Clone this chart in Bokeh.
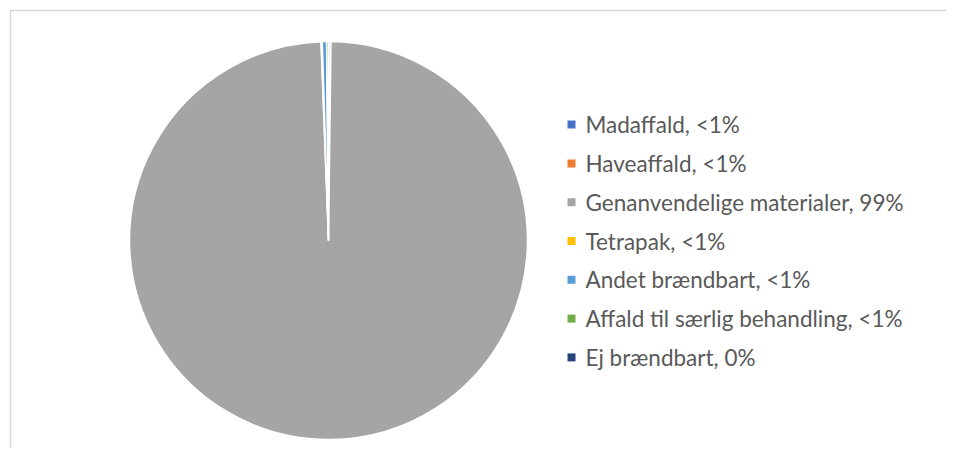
import math
from bokeh.plotting import figure
from bokeh.models import ColumnDataSource, Range1d
from bokeh.core.properties import value
from bokeh.embed import file_html
from bokeh.resources import INLINE

categories = ["Madaffald", "Haveaffald", "Genanvendelige materialer", "Tetrapak",
              "Andet brændbart", "Affald til særlig behandling", "Ej brændbart"]
shares = [0.15, 0.05, 99.2, 0.10, 0.35, 0.15, 0.0]
pct_labels = ["<1%", "<1%", "99%", "<1%", "<1%", "<1%", "0%"]
colors = ["#4472C4", "#ED7D31", "#A5A5A5", "#FFC000", "#5B9BD5", "#70AD47", "#264478"]

W, H = 946, 448
p = figure(width=W, height=H, output_backend="svg", toolbar_location=None,
           x_range=Range1d(0, W), y_range=Range1d(0, H),
           min_border=0, background_fill_color="white", border_fill_color="white")
p.axis.visible = False
p.grid.visible = False
p.outline_line_color = None

# chart frame (top and left edges visible like the reference)
p.line(x=[10, 10, W + 5], y=[-5, H - 10, H - 10], line_color="#D9D9D9", line_width=1.5)

# pie, clockwise from 12 o'clock (zero-size slices are not drawn)
total = sum(shares)
starts, ends, wcolors = [], [], []
cum = 0.0
for s, c in zip(shares, colors):
    if s > 0:
        starts.append(math.pi / 2 - 2 * math.pi * (cum + s) / total)
        ends.append(math.pi / 2 - 2 * math.pi * cum / total)
        wcolors.append(c)
    cum += s
src = ColumnDataSource(dict(start=starts, end=ends, color=wcolors))
cx, cy = 328, H - 240
p.wedge(x=cx, y=cy, radius=199, radius_units="screen", start_angle="start", end_angle="end",
        fill_color="color", line_color="white", line_width=1.5, source=src)

# legend
row_gap = 38.8
mid_screen = 240.5
ys = [H - (mid_screen + (i - 3) * row_gap) for i in range(len(categories))]
labels = [f"{c}, {l}" for c, l in zip(categories, pct_labels)]
lsrc = ColumnDataSource(dict(x=[571] * len(ys), tx=[585] * len(ys), y=ys, color=colors, text=labels))
p.rect(x="x", y="y", width=8, height=8, width_units="screen", height_units="screen",
       fill_color="color", line_color=None, source=lsrc)
p.text(x="tx", y="y", text="text", text_font=value("Lato"), text_font_size="22.5px",
       text_color="#595959", text_baseline="middle", text_align="left", source=lsrc)

open("out.html", "w").write(file_html(p, INLINE))
